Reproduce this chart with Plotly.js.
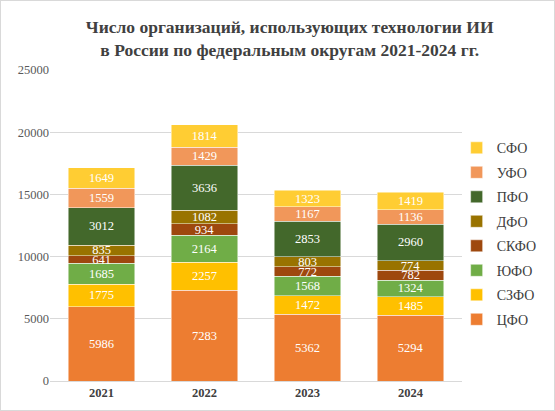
<!DOCTYPE html>
<html><head><meta charset="utf-8">
<script src="https://cdn.plot.ly/plotly-3.0.1.min.js"></script>
<style>
html,body{margin:0;padding:0;background:#fff;}
#wrap{width:553px;height:409px;border:1px solid #d9d9d9;}
</style></head>
<body><div id="wrap"><div id="chart"></div></div>
<script>
const years = ['2021','2022','2023','2024'];
const seriesNames = ['ЦФО','СЗФО','ЮФО','СКФО','ДФО','ПФО','УФО','СФО'];
const cfo  = [5986, 7283, 5362, 5294];
const szfo = [1775, 2257, 1472, 1485];
const yufo = [1685, 2164, 1568, 1324];
const skfo = [641, 934, 772, 782];
const dfo  = [835, 1082, 803, 774];
const pfo  = [3012, 3636, 2853, 2960];
const ufo  = [1559, 1429, 1167, 1136];
const sfo  = [1649, 1814, 1323, 1419];
const yTicks = [0, 5000, 10000, 15000, 20000, 25000];

const values = [cfo, szfo, yufo, skfo, dfo, pfo, ufo, sfo];
const colors = ['#ED7D31','#FFC000','#70AD47','#9E480E','#997300','#43682B','#F1975A','#FFCD33'];
const SERIF = '"Liberation Serif", "Times New Roman", serif';

const traces = seriesNames.map((n,i)=>({
  type:'bar', name:n, x:years, y:values[i],
  legendgroup:'g'+i, legendrank:(seriesNames.length - i) * 10,
  marker:{color:colors[i], line:{color:'rgba(255,255,255,0.8)', width:0.6}},
  text:values[i].map(String), textposition:'inside', insidetextanchor:'middle',
  constraintext:'none',
  textfont:{family:SERIF, size:12.5, color:'#ffffff'},
  hoverinfo:'skip'
}));

const layout = {
  width:553, height:409,
  margin:{l:48.5, r:86.5, t:69, b:29},
  paper_bgcolor:'#ffffff', plot_bgcolor:'#ffffff',
  barmode:'stack', bargap:0.355,
  uniformtext:{mode:'show', minsize:12.5},
  title:{text:'Число организаций, использующих технологии ИИ<br>в России по федеральным округам 2021-2024 гг.',
    x:0.522, xanchor:'center', y:0.922, yanchor:'top',
    font:{family:SERIF, size:17.5, color:'#404040', weight:'bold'}},
  xaxis:{type:'category', showgrid:false, showline:true, linecolor:'#d9d9d9', linewidth:1,
    ticks:'', tickfont:{family:SERIF, size:12.5, color:'#404040', weight:'bold'}},
  yaxis:{range:[0,25000], tickvals:yTicks, ticktext:yTicks.map(String), showgrid:true, gridcolor:'#d9d9d9', gridwidth:1,
    zeroline:false, showline:false, ticks:'', ticklen:0,
    tickfont:{family:SERIF, size:12.5, color:'#595959'}},
  legend:{x:0.987, xanchor:'left', y:0.80, yanchor:'top', traceorder:'grouped', tracegroupgap:3.3,
    font:{family:SERIF, size:14, color:'#404040'},
    bgcolor:'rgba(0,0,0,0)'},
  showlegend:true
};
Plotly.newPlot('chart', traces, layout, {displayModeBar:false, staticPlot:true});
</script></body></html>
